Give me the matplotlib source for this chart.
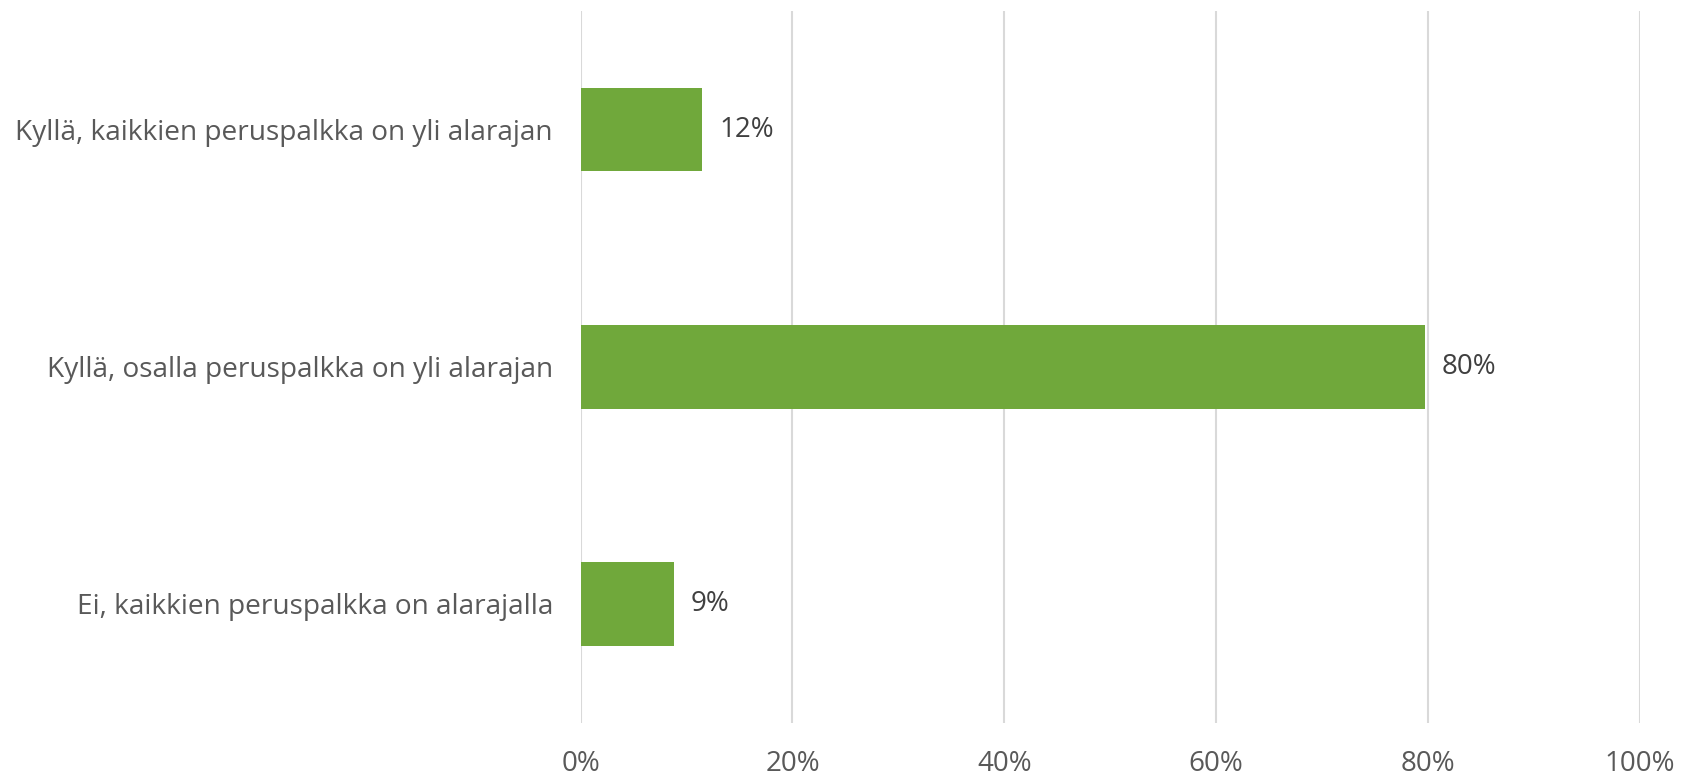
import matplotlib.pyplot as plt
from matplotlib.ticker import PercentFormatter

plt.rcParams['font.family'] = ['Open Sans', 'DejaVu Sans']

# data
categories = ['Kyllä, kaikkien peruspalkka on yli alarajan',
              'Kyllä, osalla peruspalkka on yli alarajan',
              'Ei, kaikkien peruspalkka on alarajalla']
values = [0.115, 0.797, 0.088]
value_labels = ['12%', '80%', '9%']

fig = plt.figure(figsize=(16.86, 7.78), dpi=100)
ax = fig.add_axes([0.3444, 0.0712, 0.6282, 0.9148])

pos = list(range(len(categories)))
bars = ax.barh(pos, values, height=0.353, color='#70A83B', zorder=3)

# 数值标签
for b, lab in zip(bars, value_labels):
    ax.annotate(lab, (b.get_width(), b.get_y() + b.get_height() / 2),
                xytext=(12, 0), textcoords='offset points',
                va='center', ha='left', fontsize=20, color='#404040')

ax.set_yticks(pos)
ax.set_yticklabels(categories)
ax.set_ylim(2.5, -0.5)
ax.set_xlim(0, 1)
ax.set_xticks([0, 0.2, 0.4, 0.6, 0.8, 1.0])
ax.xaxis.set_major_formatter(PercentFormatter(1.0, decimals=0))
ax.grid(axis='x', color='#d9d9d9', linewidth=1.5, zorder=0)
ax.tick_params(axis='x', length=0, pad=20, labelsize=20, labelcolor='#595959')
ax.tick_params(axis='y', length=0, pad=20, labelsize=20.2, labelcolor='#595959')
for s in ax.spines.values():
    s.set_visible(False)

fig.savefig('out.png', dpi=100)
